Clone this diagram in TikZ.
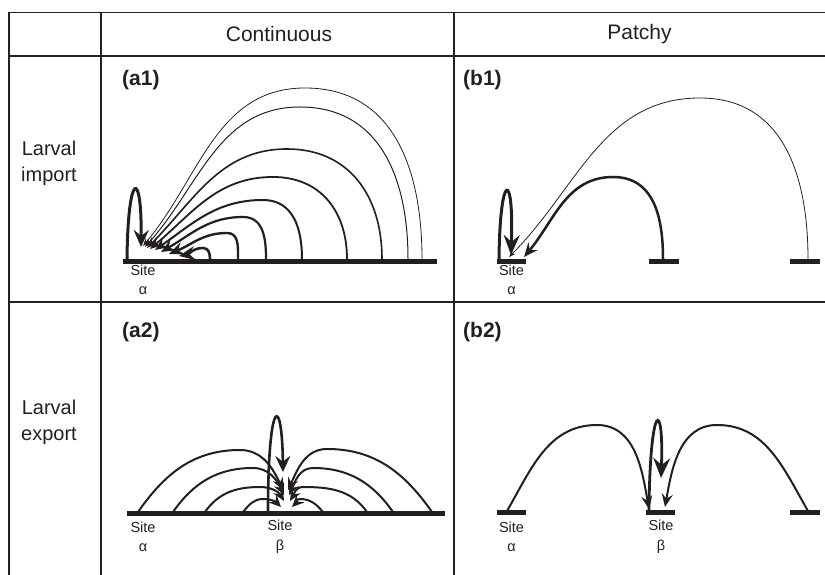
\documentclass[tikz,border=0pt]{standalone}
\usepackage{fontspec}
\setmainfont{Liberation Sans}
\usetikzlibrary{arrows.meta}
\definecolor{ink}{HTML}{231F20}
\begin{document}
\begin{tikzpicture}[x=1pt,y=1pt,
  tbl/.style={line width=1.8pt, draw=ink},
  gnd/.style={line width=5pt, draw=ink},
  hdr/.style={font=\fontsize{21}{24}\selectfont, text=ink, inner sep=0pt},
  rowlab/.style={font=\fontsize{20}{26}\selectfont, text=ink, align=center, inner sep=0pt},
  panel/.style={font=\fontsize{21}{24}\selectfont\bfseries, text=ink, anchor=west, inner sep=0pt},
  sitelab/.style={font=\fontsize{14.5}{19.5}\selectfont, text=ink, align=center, inner sep=0pt},
  arcline/.style={draw=ink, line cap=round},
  tip/.style 2 args={-{Stealth[length=#1,width=#2,inset=0.35*#1]}}
]
\useasboundingbox (0,0) rectangle (825,575);
% ---- table ----
\draw[tbl, line width=2.4pt] (9,0) -- (9,562.5);
\draw[tbl] (8,562.5) -- (825,562.5);
\draw[tbl] (9,519) -- (825,519);
\draw[tbl] (9,273) -- (825,273);
\draw[tbl] (101,0) -- (101,562.5);
\draw[tbl] (454,0) -- (454,562.5);
\node[hdr] (hc) at (279,541) {Continuous};
\node[hdr] (hp) at (639.5,541) {Patchy};
\node[rowlab] (rimp) at (49,412) {Larval\\import};
\node[rowlab] (rexp) at (49,153) {Larval\\export};
\node[panel] (pa1) at (122,495) {(a1)};
\node[panel] (pb1) at (463,495) {(b1)};
\node[panel] (pa2) at (122,243) {(a2)};
\node[panel] (pb2) at (463,243) {(b2)};
% ---- (a1) ----
\draw[gnd] (123,313.3) -- (437,313.3);
\draw[arcline, line width=3pt, tip={17}{15}] (127,316) .. controls (128,406) and (142,406) .. (141,328);
\draw[arcline, line width=0.8pt, tip={8}{6}] (422,316) to[out=90,in=0,looseness=1.1] (305,487) to[out=180,in=50] (143,329);
\draw[arcline, line width=1.0pt, tip={9}{7}] (408,316) to[out=90,in=0,looseness=1.1] (300,468) to[out=180,in=48] (145,328);
\draw[arcline, line width=1.6pt, tip={11}{9}] (382,316) to[out=90,in=0,looseness=1.1] (287,426) to[out=180,in=45] (147,327);
\draw[arcline, line width=1.8pt, tip={12}{10}] (347,316) to[out=90,in=0,looseness=1.1] (273,398) to[out=180,in=40] (150,326);
\draw[arcline, line width=2.0pt, tip={13}{11}] (302,316) to[out=90,in=0,looseness=1.1] (263,375) to[out=180,in=35] (155,325);
\draw[arcline, line width=2.2pt, tip={14}{12}] (266,316) to[out=90,in=0,looseness=1.1] (243,358) to[out=180,in=30] (161,323);
\draw[arcline, line width=2.4pt, tip={15}{13}] (238,316) to[out=90,in=0,looseness=1.1] (227,342) to[out=180,in=22] (169,321);
\draw[arcline, line width=2.6pt, tip={16}{14}] (210,316) to[out=90,in=0,looseness=1.1] (203,327) to[out=180,in=10] (179,319);
\node[sitelab] (sa1) at (143,295) {Site\\α};
% ---- (b1) ----
\draw[gnd] (497,313.3) -- (526,313.3);
\draw[gnd] (649,313.3) -- (679,313.3);
\draw[gnd] (790,313.3) -- (820,313.3);
\draw[arcline, line width=3pt, tip={20}{16}] (499,316) .. controls (500,405) and (514,405) .. (511,320);
\draw[arcline, line width=0.8pt, tip={7}{5}] (808,316) to[out=90,in=0,looseness=1.1] (700,477) to[out=180,in=45] (509,318);
\draw[arcline, line width=2.5pt, tip={14}{12}] (663,316) to[out=90,in=0,looseness=1.1] (613,398) to[out=180,in=50] (524,318);
\node[sitelab] (sb1) at (511.5,295) {Site\\α};
% ---- (a2) ----
\draw[gnd] (127,61) -- (445,61);
\draw[arcline, line width=2pt, tip={12}{11}] (138,63) to[out=55,in=180] (240,125) to[out=0,in=115] (283,85);
\draw[arcline, line width=2pt, tip={12}{11}] (173,63) to[out=55,in=180] (253,107) to[out=0,in=115] (284,80);
\draw[arcline, line width=2pt, tip={12}{11}] (205,63) to[out=55,in=180] (260,88) to[out=0,in=120] (284,74);
\draw[arcline, line width=2pt, tip={12}{11}] (243,63) to[out=50,in=180] (263,76) to[out=0,in=135] (281,68);
\draw[arcline, line width=2pt, tip={12}{11}] (432,63) to[out=125,in=0] (327,126) to[out=180,in=65] (288,85);
\draw[arcline, line width=2pt, tip={12}{11}] (393,63) to[out=125,in=0] (313,107) to[out=180,in=65] (289,80);
\draw[arcline, line width=2pt, tip={12}{11}] (367,63) to[out=125,in=0] (303,88) to[out=180,in=60] (290,74);
\draw[arcline, line width=2pt, tip={12}{11}] (323,63) to[out=130,in=0] (300,76) to[out=180,in=45] (292,68);
\draw[arcline, line width=2.6pt, tip={16}{15}] (268,63) .. controls (268,178) and (282,183) .. (283,103);
\node[sitelab] (sa2) at (143,38) {Site\\α};
\node[sitelab] (sb2) at (280,38) {Site\\β};
% ---- (b2) ----
\draw[gnd] (497,62.3) -- (526,62.3);
\draw[gnd] (646,62.3) -- (675,62.3);
\draw[gnd] (790,62.3) -- (820,62.3);
\draw[arcline, line width=2pt, tip={13}{11}] (507,64) to[out=60,in=180] (597,150) to[out=0,in=100] (649,66);
\draw[arcline, line width=2pt, tip={13}{11}] (808,64) to[out=120,in=0] (717,150) to[out=180,in=80] (665,68);
\draw[arcline, line width=2.8pt, tip={20}{17}] (649,64) .. controls (650,176) and (664,176) .. (661,97);
\node[sitelab] (sa3) at (511.5,38) {Site\\α};
\node[sitelab] (sb3) at (661,38) {Site\\β};
\end{tikzpicture}
\end{document}
